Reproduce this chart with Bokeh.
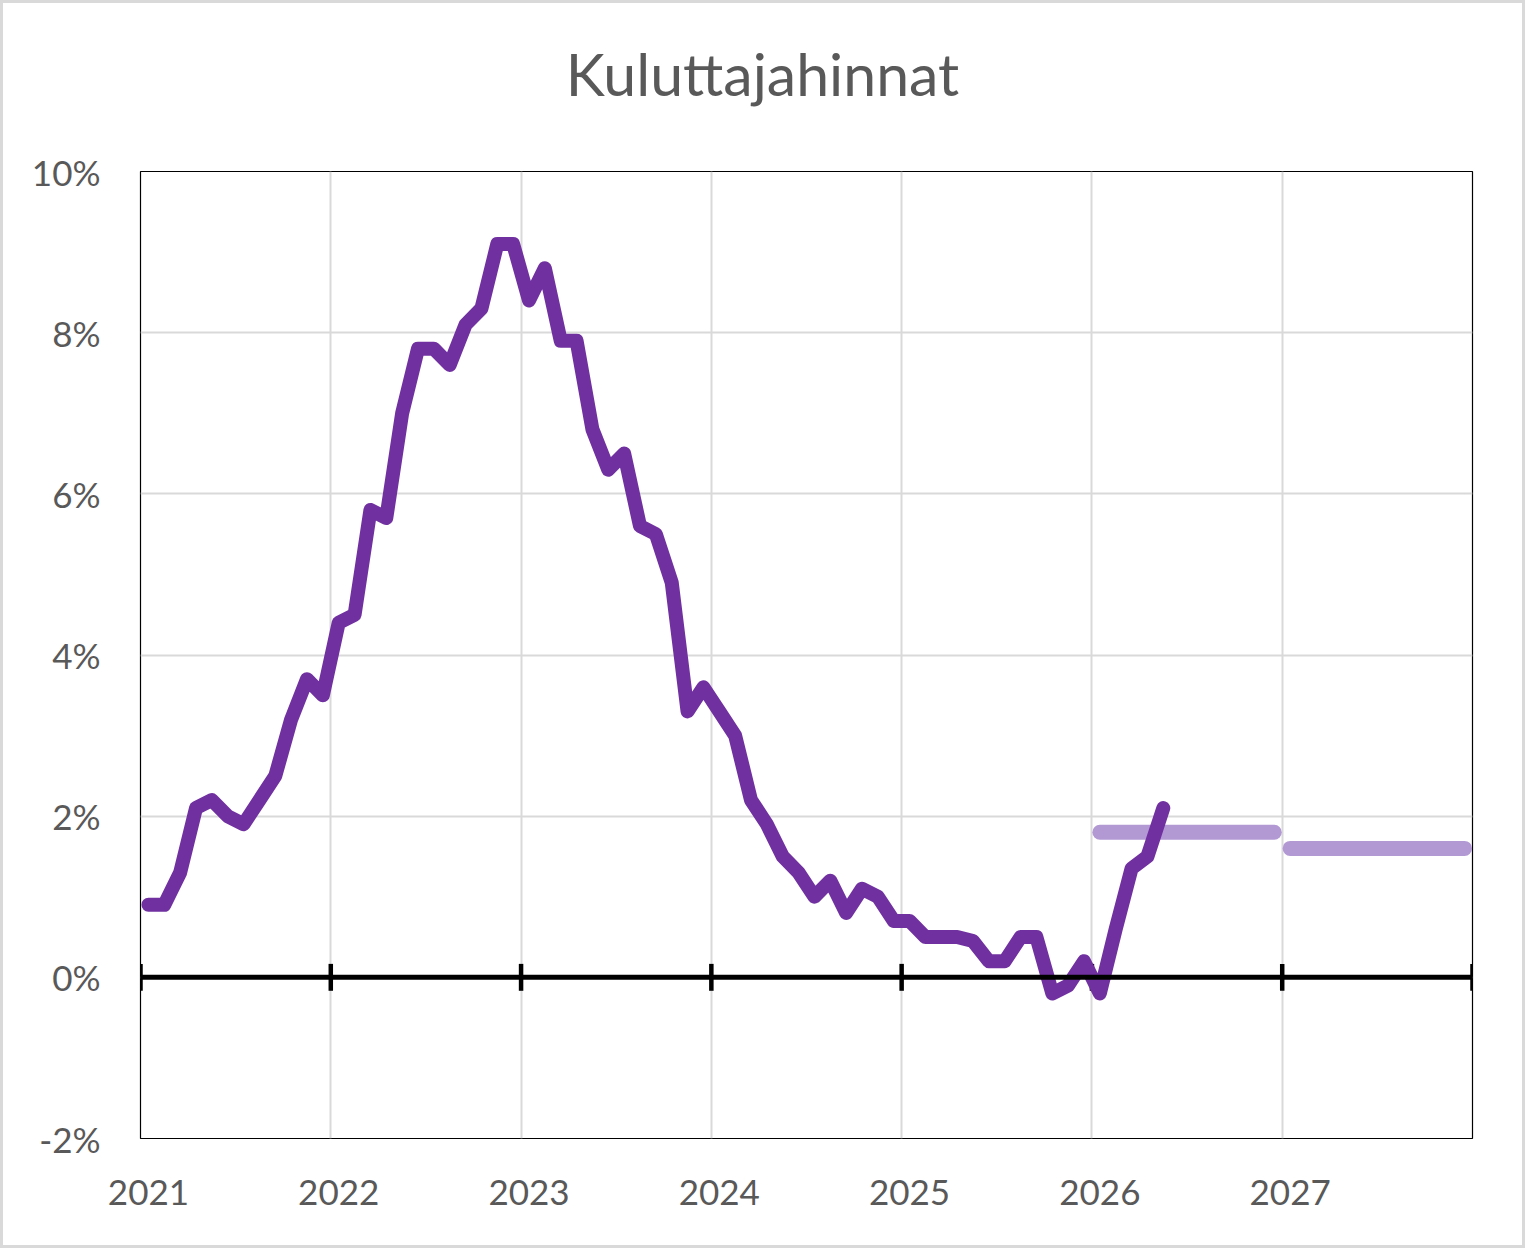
import numpy as np
from bokeh.plotting import figure
from bokeh.models import FixedTicker, Span, Range1d, Div
from bokeh.layouts import column
from bokeh.embed import file_html
from bokeh.resources import INLINE

# ---- data (inflation, % y/y, monthly) ----
cpi_2021 = [0.9, 0.9, 1.3, 2.1, 2.2, 2.0, 1.9, 2.2, 2.5, 3.2, 3.7, 3.5]
cpi_2022 = [4.4, 4.5, 5.8, 5.7, 7.0, 7.8, 7.8, 7.6, 8.1, 8.3, 9.1, 9.1]
cpi_2023 = [8.4, 8.8, 7.9, 7.9, 6.8, 6.3, 6.5, 5.6, 5.5, 4.9, 3.3, 3.6]
cpi_2024 = [3.3, 3.0, 2.2, 1.9, 1.5, 1.3, 1.0, 1.2, 0.8, 1.1, 1.0, 0.7]
cpi_2025 = [0.7, 0.5, 0.5, 0.5, 0.45, 0.2, 0.2, 0.5, 0.5, -0.2, -0.1, 0.2]
cpi_2026 = [-0.2, 0.6, 1.35, 1.5, 2.1]
forecast_2026 = [1.8] * 12
forecast_2027 = [1.6] * 12

years = [2021, 2022, 2023, 2024, 2025, 2026, 2027]
year_labels = ["2021", "2022", "2023", "2024", "2025", "2026", "2027"]
y_ticks = [-2, 0, 2, 4, 6, 8, 10]
y_labels = ["-2%", "0%", "2%", "4%", "6%", "8%", "10%"]
title_text = "Kuluttajahinnat"

FONT = "Lato"
TXT = "#595959"
MAIN = "#7030A0"
FCST = "#B399D4"
GRID = "#D9D9D9"
EDGE = "#D9D9D9"


def month_x(year, n):
    return [year + (m + 0.5) / 12 for m in range(n)]


actual = cpi_2021 + cpi_2022 + cpi_2023 + cpi_2024 + cpi_2025 + cpi_2026
actual_x = []
for yr, arr in zip([2021, 2022, 2023, 2024, 2025, 2026],
                   [cpi_2021, cpi_2022, cpi_2023, cpi_2024, cpi_2025, cpi_2026]):
    actual_x += month_x(yr, len(arr))

# title block
title = Div(
    text=(f'<div style="width:1525px;padding-top:44px;text-align:center;'
          f'font-family:{FONT};font-size:59px;line-height:59px;'
          f'color:{TXT};white-space:nowrap;">{title_text}</div>'),
    width=1525, height=130, margin=0)

p = figure(frame_width=1332, frame_height=967,
           min_border_left=140, min_border_right=53,
           min_border_top=41, min_border_bottom=110,
           x_range=Range1d(2021, 2028), y_range=Range1d(-2, 10),
           output_backend="svg", toolbar_location=None, margin=0)

p.background_fill_color = "white"
p.border_fill_color = None
p.outline_line_color = "black"
p.outline_line_width = 1.2

# grids
p.xgrid.ticker = FixedTicker(ticks=years[1:])
p.xgrid.grid_line_color = GRID
p.xgrid.grid_line_width = 2
p.ygrid.ticker = FixedTicker(ticks=y_ticks[1:-1])
p.ygrid.grid_line_color = GRID
p.ygrid.grid_line_width = 2

# x axis: labels only, centered on January
xlab_pos = [y + 0.5 / 12 for y in years]
p.xaxis.ticker = FixedTicker(ticks=xlab_pos)
p.xaxis.major_label_overrides = {pos: lab for pos, lab in zip(xlab_pos, year_labels)}
p.xaxis.axis_line_color = None
p.xaxis.major_tick_line_color = None
p.xaxis.minor_tick_line_color = None
p.xaxis.major_label_text_font = FONT
p.xaxis.major_label_text_font_size = "35px"
p.xaxis.major_label_text_color = TXT
p.xaxis.major_label_standoff = 35

# y axis
p.yaxis.ticker = FixedTicker(ticks=y_ticks)
p.yaxis.major_label_overrides = {t: lab for t, lab in zip(y_ticks, y_labels)}
p.yaxis.axis_line_color = None
p.yaxis.major_tick_line_color = None
p.yaxis.minor_tick_line_color = None
p.yaxis.major_tick_out = 0
p.yaxis.major_tick_in = 0
p.yaxis.major_label_text_font = FONT
p.yaxis.major_label_text_font_size = "35px"
p.yaxis.major_label_text_color = TXT
p.yaxis.major_label_standoff = 40

# zero axis line with cross ticks at year boundaries
p.add_layout(Span(location=0, dimension="width", line_color="black", line_width=5))
tick_years = years + [2028]
p.segment(x0=tick_years, y0=[-0.167] * len(tick_years),
          x1=tick_years, y1=[0.167] * len(tick_years),
          line_color="black", line_width=4.5)

# forecast lines
p.line(month_x(2026, 12), forecast_2026, line_color=FCST, line_width=15,
       line_cap="round", line_join="round")
p.line(month_x(2027, 12), forecast_2027, line_color=FCST, line_width=15,
       line_cap="round", line_join="round")

# actual
p.line(actual_x, actual, line_color=MAIN, line_width=14,
       line_cap="round", line_join="round")

layout = column(title, p, spacing=0)
g = f"linear-gradient({EDGE},{EDGE})"
layout.styles = {
    "background": (f"{g} left top / 3px 100% no-repeat, "
                   f"{g} right top / 3px 100% no-repeat, "
                   f"{g} left top / 100% 3px no-repeat, "
                   f"{g} left bottom / 100% 3px no-repeat, white"),
}

open("out.html", "w").write(file_html(layout, INLINE))
